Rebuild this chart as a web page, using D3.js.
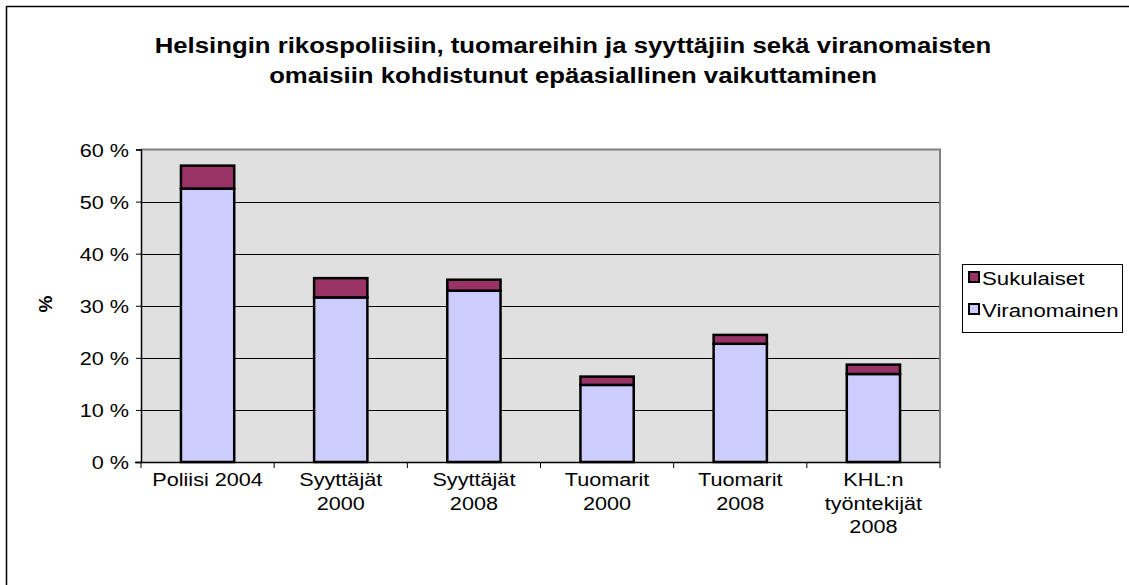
<!DOCTYPE html>
<html><head><meta charset="utf-8">
<script src="https://cdn.jsdelivr.net/npm/d3@7"></script>
<style>
body{margin:0;background:#fff;}
text{font-family:"Liberation Sans",Arial,sans-serif;fill:#000;}
</style></head>
<body><svg id="c" width="1129" height="585"></svg>
<script>
const categories = ["Poliisi 2004","Syyttäjät 2000","Syyttäjät 2008","Tuomarit 2000","Tuomarit 2008","KHL:n työntekijät 2008"];
const categoryLines = [["Poliisi 2004"],["Syyttäjät","2000"],["Syyttäjät","2008"],["Tuomarit","2000"],["Tuomarit","2008"],["KHL:n","työntekijät","2008"]];
const viranomainen = [52.5, 31.6, 32.9, 14.8, 22.7, 16.9];
const sukulaiset = [4.4, 3.7, 2.1, 1.6, 1.7, 1.8];
const yTicks = [0,10,20,30,40,50,60];
const seriesNames = ["Viranomainen","Sukulaiset"];
const colors = {"Viranomainen":"#ccccff","Sukulaiset":"#993366"};
const titleLines = ["Helsingin rikospoliisiin, tuomareihin ja syyttäjiin sekä viranomaisten","omaisiin kohdistunut epäasiallinen vaikuttaminen"];

const SX = 1.17;
const svg = d3.select("#c");
const L=141, R=940, T=149.5, B=462;

// outer border
svg.append("path").attr("d","M6.5,1000 V6.5 H1200").attr("fill","none").attr("stroke","#000").attr("stroke-width",1.5);

// title
titleLines.forEach((t,i)=>{
  svg.append("text").attr("transform",`translate(573,${53+i*30}) scale(1.17,1)`)
    .attr("text-anchor","middle").style("font-size","22px").style("font-weight","bold").text(t);
});

const x = d3.scaleBand().domain(categories).range([L,R]).paddingInner(0.6).paddingOuter(0.3);
const xb = d3.scaleBand().domain(categories).range([L,R]);
const y = d3.scaleLinear().domain([0,60]).range([B,T]);

// plot bg
svg.append("rect").attr("x",L).attr("y",T).attr("width",R-L).attr("height",B-T).attr("fill","#e0e0e0");
// grid
svg.append("g").selectAll("line").data(yTicks.filter(d=>d>0&&d<60)).join("line")
  .attr("x1",L).attr("x2",R).attr("y1",d=>Math.round(y(d))+0.5).attr("y2",d=>Math.round(y(d))+0.5)
  .attr("stroke","#000").attr("stroke-width",1);
// plot border top/right gray
svg.append("path").attr("d",`M${L},${T} H${R} V${B}`).attr("fill","none").attr("stroke","#808080").attr("stroke-width",2);

// bars
const data = categories.map((c,i)=>({c, Viranomainen:viranomainen[i], Sukulaiset:sukulaiset[i]}));
const stack = d3.stack().keys(seriesNames)(data);
svg.append("g").selectAll("g").data(stack).join("g").attr("fill",d=>colors[d.key])
  .selectAll("rect").data(d=>d).join("rect")
  .attr("x",d=>x(d.data.c)).attr("width",x.bandwidth())
  .attr("y",d=>y(d[1])).attr("height",d=>y(d[0])-y(d[1]))
  .attr("stroke","#000").attr("stroke-width",2.5);

// y axis
const ya = svg.append("g").attr("transform",`translate(${L},0)`)
  .call(d3.axisLeft(y).tickValues(yTicks).tickSize(5).tickPadding(10).tickFormat(d=>d+" %"));
ya.select(".domain").attr("stroke","#000").attr("stroke-width",1.5);
ya.selectAll(".tick line").attr("stroke","#000");
ya.selectAll(".tick text").style("font-size","18.5px").attr("font-family","Liberation Sans, Arial, sans-serif")
  .attr("transform",`scale(${SX},1)`).attr("x",-12/SX).attr("dy","0.36em");

// x axis
const xa = svg.append("g").attr("transform",`translate(0,${B})`)
  .call(d3.axisBottom(xb).tickSize(0).tickFormat(""));
xa.select(".domain").remove();
svg.append("line").attr("x1",135).attr("x2",R).attr("y1",B+0.5).attr("y2",B+0.5).attr("stroke","#000").attr("stroke-width",1.5);
svg.append("g").selectAll("line").data(categories.map(c=>xb(c)).concat([R]))
  .join("line").attr("x1",d=>d).attr("x2",d=>d).attr("y1",B).attr("y2",B+6).attr("stroke","#000");
categories.forEach((c,i)=>{
  categoryLines[i].forEach((ln,j)=>{
    svg.append("text").attr("transform",`translate(${xb(c)+xb.bandwidth()/2},${486+j*23.5}) scale(${SX},1)`)
      .attr("text-anchor","middle").style("font-size","18.5px").text(ln);
  });
});

// y label
svg.append("text").attr("transform","translate(52,304) rotate(-90)").attr("text-anchor","middle")
  .style("font-size","19px").style("font-weight","bold").text("%");

// legend
const lg = svg.append("g");
lg.append("rect").attr("x",962.5).attr("y",264.5).attr("width",160).attr("height",68).attr("fill","#fff").attr("stroke","#000");
const legendOrder = ["Sukulaiset","Viranomainen"];
legendOrder.forEach((k,i)=>{
  lg.append("rect").attr("x",969).attr("y",278+i*32-6).attr("width",10).attr("height",10)
    .attr("fill",colors[k]).attr("stroke","#000").attr("stroke-width",2);
  lg.append("text").attr("transform",`translate(982,${285+i*32}) scale(1.2,1)`).style("font-size","18.5px").text(k);
});
</script></body></html>
